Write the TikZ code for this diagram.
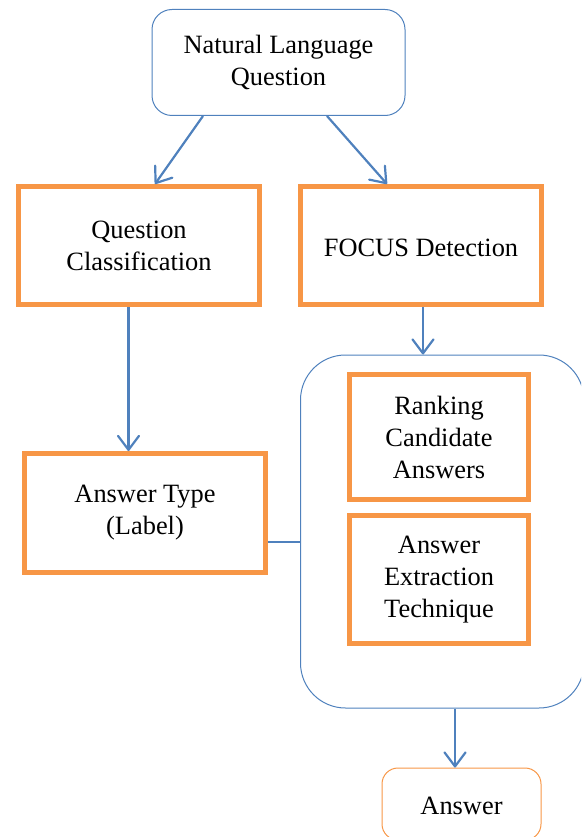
\documentclass[tikz,border=0pt]{standalone}
\usepackage{fontspec}
\setmainfont{Liberation Serif}
\usetikzlibrary{arrows.meta}
\definecolor{orangeC}{HTML}{F79646}
\definecolor{blueC}{HTML}{4F81BD}
\begin{document}
\begin{tikzpicture}[x=1pt,y=-1pt,
  txt/.style={font=\fontsize{26.4}{32}\selectfont, align=center, text=black, inner sep=0pt,
    execute at begin node={\rule{0pt}{22pt}}},
  obox/.style={txt, draw=orangeC, line width=5pt},
  rbox/.style={txt, draw=blueC, line width=1pt, rounded corners=20pt},
  ansbox/.style={txt, draw=orangeC, line width=1pt, rounded corners=16pt},
  contbox/.style={draw=blueC, line width=1pt, rounded corners=45pt, inner sep=0pt},
  arr/.style={draw=blueC, line width=2.2pt, -{Straight Barb[length=14pt,width=21pt,round]}},
  link/.style={draw=blueC, line width=2pt},
  ]
\useasboundingbox (0,0) rectangle (581,837);
\clip (0,0) rectangle (581,837);

\node[rbox, minimum width=253pt, minimum height=106pt] (nlq) at (278.5,62.5) {Natural Language\\Question};
\node[obox, minimum width=241pt, minimum height=118pt] (qc) at (139,245.5) {Question\\Classification};
\node[obox, minimum width=241pt, minimum height=118pt] (fd) at (421,245.5) {FOCUS Detection};
\node[obox, minimum width=241pt, minimum height=119pt] (at) at (145,513) {Answer Type\\(Label)};
\node[contbox, minimum width=283.5pt, minimum height=353pt] (cont) at (442.25,531.5) {};
\node[obox, minimum width=179pt, minimum height=125pt] (rca) at (439,437) {Ranking\\Candidate\\Answers};
\node[obox, minimum width=179pt, minimum height=128pt] (aet) at (439,579.5) {Answer\\Extraction\\Technique};
\node[ansbox, minimum width=159pt, minimum height=72pt] (ans) at (461.5,804) {Answer};

\draw[arr] ([xshift=-75.5pt]nlq.south) -- ([xshift=16pt]qc.north);
\draw[arr] ([xshift=48.5pt]nlq.south) -- ([xshift=-34pt]fd.north);
\draw[arr] ([xshift=-10.5pt]qc.south) -- ([xshift=-10.5pt]qc.south |- at.north);
\draw[arr] ([xshift=2pt]fd.south) -- ([xshift=2pt]fd.south |- cont.north);
\draw[link] ([yshift=-29pt]at.east) -- ([yshift=-29pt]at.east -| cont.west);
\draw[arr] ([xshift=12.75pt]cont.south) -- ([xshift=12.75pt]cont.south |- ans.north);
\end{tikzpicture}
\end{document}
